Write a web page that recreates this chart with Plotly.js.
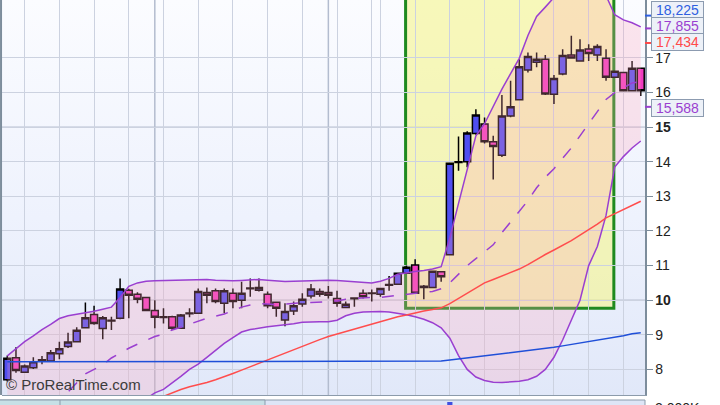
<!DOCTYPE html>
<html>
<head>
<meta charset="utf-8">
<script src="https://cdn.plot.ly/plotly-3.0.1.min.js"></script>
<style>
  html, body { margin:0; padding:0; background:#ffffff; width:720px; height:405px; overflow:hidden; }
  #bg { position:absolute; left:2px; top:0; width:643px; height:395px;
        background: linear-gradient(to bottom, #fbfcff 0%, #eef2fd 55%, #e1e8f9 100%); }
  #chart { position:absolute; left:0; top:0; width:720px; height:405px; }
</style>
</head>
<body>
<div id="bg"></div>
<div id="chart"></div>
<script>
// ---- candles (index = trading session) ----
const openP  = [7.70,8.34,7.92,8.05,8.26,8.24,8.45,8.66,8.80,9.20,9.59,9.18,9.40,9.48,10.29,10.17,10.08,9.70,9.50,9.52,
                9.19,9.61,9.62,10.22,10.27,9.91,10.20,10.00,10.33,10.29,10.17,9.94,9.43,9.69,9.89,10.12,10.25,10.22,10.05,9.79,
                10.04,10.20,10.19,10.17,10.43,10.46,10.78,11.02,10.37,10.37,10.82,11.31,13.98,14.00,14.82,15.09,14.58,14.19,15.32,15.79,
                16.65,16.88,16.96,15.95,16.54,17.09,16.91,17.26,17.09,16.99,16.44,16.58,16.05,16.70];
const highP  = [8.40,8.64,8.14,8.35,8.39,8.56,8.80,9.06,9.22,9.93,9.84,9.54,9.52,10.63,10.33,10.23,10.10,10.00,9.77,9.55,
                9.60,9.77,10.34,10.37,10.34,10.34,10.34,10.53,10.63,10.63,10.25,9.96,9.91,9.96,10.20,10.47,10.34,10.41,10.27,9.96,
                10.06,10.31,10.31,10.34,10.70,10.80,11.00,11.18,10.44,10.86,10.84,13.97,14.73,14.88,15.52,15.28,14.75,15.93,16.34,16.96,
                17.16,17.16,17.09,16.51,17.25,17.64,17.54,17.40,17.40,17.25,16.64,16.60,16.91,16.72];
const lowP   = [7.65,7.90,7.90,8.01,8.15,8.22,8.29,8.62,8.78,9.18,9.29,8.87,9.14,9.45,9.48,9.91,9.68,9.19,9.33,9.14,
                9.17,9.51,9.60,9.91,9.91,9.62,9.77,9.77,10.10,10.25,9.77,9.52,9.25,9.57,9.81,10.05,10.10,10.05,9.81,9.77,
                9.81,10.05,9.96,10.10,10.27,10.44,10.76,10.18,10.03,10.35,10.53,11.30,13.74,13.84,14.78,14.53,13.49,14.14,15.29,15.77,
                16.58,16.73,15.93,15.67,16.50,16.98,16.89,16.91,16.91,16.34,16.42,16.03,16.03,15.90];
const closeP = [8.32,7.97,8.10,8.22,8.28,8.48,8.60,8.79,9.13,9.49,9.33,9.49,9.42,10.32,10.14,10.03,9.70,9.51,9.52,9.19,
                9.57,9.63,10.25,10.14,9.96,10.27,9.96,10.20,10.35,10.37,9.84,9.77,9.67,9.84,10.03,10.32,10.17,10.14,9.91,9.88,
                10.06,10.10,10.21,10.34,10.45,10.78,10.95,10.20,10.40,10.84,10.68,13.96,14.00,14.83,15.35,14.58,14.44,15.32,15.59,16.75,
                17.04,16.96,15.96,16.41,17.07,17.00,17.23,17.13,17.33,16.44,16.62,16.05,16.70,16.05];

// ---- Bollinger bands ----
const bbUpper = [8.39,8.60,8.80,8.97,9.15,9.30,9.47,9.55,9.59,9.62,9.68,9.74,9.80,10.08,10.40,10.50,10.55,10.56,10.57,10.58,
                 10.58,10.60,10.60,10.60,10.58,10.56,10.56,10.57,10.59,10.60,10.58,10.55,10.54,10.55,10.56,10.57,10.58,10.58,10.57,10.55,
                 10.52,10.50,10.50,10.55,10.63,10.75,10.80,10.83,10.86,10.90,10.97,11.80,12.80,13.80,14.75,15.10,15.60,16.10,16.55,16.99,
                 17.65,18.20,18.47,18.75,19.20,19.40,19.50,19.35,19.10,18.80,18.25,18.10,18.02,17.90];
const bbMiddle = [6.30,6.45,6.60,6.75,6.90,7.00,7.15,7.35,7.60,7.87,8.00,8.13,8.33,8.48,8.61,8.73,8.85,8.95,9.02,9.14,
                  9.22,9.31,9.40,9.48,9.54,9.60,9.70,9.80,9.86,9.90,9.89,9.87,9.89,9.92,9.93,9.93,9.94,9.96,9.98,10.03,
                  10.05,10.08,10.08,10.08,10.11,10.15,10.19,10.21,10.23,10.25,10.33,10.50,10.75,11.00,11.20,11.40,11.60,11.95,12.25,12.55,
                  12.88,13.25,13.55,13.80,14.10,14.40,14.75,15.10,15.45,15.80,16.00,16.15,16.28,16.32];
const bbLower = [4.60,4.60,4.70,4.70,4.80,4.80,4.85,5.15,5.60,6.10,6.30,6.50,6.85,6.90,6.85,6.95,7.15,7.32,7.42,7.60,
                 7.80,8.00,8.15,8.35,8.55,8.75,8.92,9.08,9.15,9.20,9.23,9.26,9.28,9.32,9.36,9.38,9.38,9.38,9.42,9.55,
                 9.62,9.66,9.67,9.67,9.66,9.63,9.58,9.52,9.45,9.35,9.20,8.90,8.40,8.00,7.78,7.68,7.63,7.62,7.63,7.66,
                 7.70,7.80,8.00,8.35,8.85,9.40,10.00,11.00,11.55,12.45,13.85,14.15,14.40,14.60];

// ---- moving averages ----
const maRed = [null,null,null,null,null,null,null,null,null,null,null,null,null,null,null,null,null,7.12,7.22,7.33,
               7.42,7.50,7.55,7.62,7.70,7.78,7.88,7.98,8.08,8.18,8.28,8.38,8.48,8.58,8.68,8.76,8.86,8.95,9.02,9.10,
               9.17,9.25,9.32,9.38,9.45,9.52,9.57,9.64,9.69,9.73,9.78,9.90,10.05,10.20,10.36,10.50,10.60,10.70,10.80,10.90,
               11.03,11.18,11.32,11.45,11.58,11.72,11.88,12.03,12.20,12.38,12.50,12.62,12.75,12.86];
const maBlue = [8.22,8.22,8.22,8.22,8.22,8.22,8.22,8.22,8.22,8.22,8.22,8.22,8.22,8.22,8.22,8.22,8.22,8.22,8.22,8.22,
                8.22,8.22,8.22,8.22,8.22,8.22,8.22,8.22,8.22,8.22,8.22,8.22,8.22,8.22,8.22,8.22,8.22,8.22,8.22,8.22,
                8.22,8.22,8.22,8.22,8.22,8.22,8.22,8.22,8.22,8.22,8.24,8.27,8.30,8.33,8.36,8.39,8.42,8.45,8.47,8.50,
                8.53,8.56,8.60,8.64,8.68,8.72,8.76,8.80,8.84,8.88,8.92,8.97,9.03,9.06];

// ---- axis ticks ----
const yTickVals = [8,9,10,11,12,13,14,15,16,17];
const yTickText = ['8','9','<b>10</b>','11','12','13','14','<b>15</b>','16','17'];
const xGridVals = [2,6,10,14,18,22,26,30,34,38,42,43,47,51,55,59,63,67,71];
const xMajorVals = [17,37];
const yMajorVals = [10,15];

// ---- highlighted zone ----
const zoneStart = 45.9, zoneEnd = 69.9, zoneLow = 9.77, zoneHigh = 20;

// ---- right-side value labels ----
const labelValues = [18.225, 17.855, 17.434, 15.588];
const labelTexts  = ['18,225','17,855','17,434','15,588'];
const labelColors = ['#2f5fe0','#9a3fd0','#ff4a4a','#9a3fd0'];
const labelShift  = [6, 2.5, 0.5, -1];

const idx = openP.map((_, i) => i);
const purple = '#9a3fd0';

const traces = [
  {x: idx, y: bbLower, type:'scatter', mode:'lines', line:{color:purple, width:1.5}, hoverinfo:'skip'},
  {x: idx, y: bbUpper, type:'scatter', mode:'lines', line:{color:purple, width:1.5},
   fill:'tonexty', fillcolor:'rgba(255,160,185,0.25)', hoverinfo:'skip'},
  {x: idx, y: bbMiddle, type:'scatter', mode:'lines', line:{color:purple, width:1.5, dash:'12px,12px'}, hoverinfo:'skip'},
  {x: idx, y: maRed, type:'scatter', mode:'lines', line:{color:'#ff4d4d', width:1.5}, hoverinfo:'skip'},
  {x: idx, y: maBlue, type:'scatter', mode:'lines', line:{color:'#1f4fd8', width:1.5}, hoverinfo:'skip'},
  {x: idx, open: openP, high: highP, low: lowP, close: closeP, type:'candlestick',
   increasing:{fillcolor:'#4f4ff0', line:{color:'#000000', width:1.5}},
   decreasing:{fillcolor:'#f03cc0', line:{color:'#000000', width:1.5}},
   whiskerwidth:0, hoverinfo:'skip'}
];

const shapes = [];
xMajorVals.forEach(v => shapes.push({type:'line', xref:'x', yref:'paper', x0:v, x1:v, y0:0, y1:1,
  line:{color:'#b3bccf', width:1.5}, layer:'below'}));
yMajorVals.forEach(v => shapes.push({type:'line', xref:'paper', yref:'y', x0:0, x1:1, y0:v, y1:v,
  line:{color:'#b8c0d2', width:1.5}, layer:'below'}));
shapes.push({type:'rect', xref:'x', yref:'y', x0:zoneStart, x1:zoneEnd, y0:zoneLow, y1:zoneHigh,
  fillcolor:'rgba(245,245,140,0.6)', line:{color:'#1f8a1f', width:3}, layer:'below'});
shapes.push({type:'line', xref:'paper', yref:'paper', x0:-0.0015, x1:-0.0015, y0:0, y1:1,
  line:{color:'#7d8d9c', width:2}});
labelValues.forEach((v, k) => shapes.push({type:'line', xref:'paper', yref:'y', x0:1, x1:1.0095, y0:v, y1:v,
  line:{color:labelColors[k], width:2}}));
const pTop = -5/395;
shapes.push({type:'rect', xref:'paper', yref:'paper', x0:-0.004, x1:1, y0:-0.05, y1:pTop,
  fillcolor:'#dde5f6', line:{color:'#8c9bab', width:1}});
shapes.push({type:'rect', xref:'paper', yref:'paper', x0:-0.004, x1:263/643, y0:-0.05, y1:pTop,
  fillcolor:'#c6e0e6', line:{color:'#8c9bab', width:1}});
shapes.push({type:'line', xref:'paper', yref:'paper', x0:58/643, x1:58/643, y0:-0.05, y1:pTop,
  line:{color:'#8c9bab', width:1}});
shapes.push({type:'rect', xref:'x', yref:'paper', x0:50.7, x1:51.3, y0:-0.05, y1:pTop - 2/395,
  fillcolor:'#3f4fe0', line:{width:0}});

const annotations = [];
labelValues.forEach((v, k) => annotations.push({
  xref:'paper', yref:'y', x:1.0095, y:v, xanchor:'left', yanchor:'middle', yshift:labelShift[k],
  text:labelTexts[k], showarrow:false, align:'center',
  font:{family:'Liberation Sans, Arial, sans-serif', size:14, color:labelColors[k]},
  bgcolor:'#edf1f8', bordercolor:'#8c9bb0', borderwidth:1, borderpad:1, width:49, height:14
}));
annotations.push({xref:'paper', yref:'paper', x:0.003, y:0, xanchor:'left', yanchor:'bottom', yshift:0,
  text:'© ProRealTime.com', showarrow:false,
  font:{family:'Liberation Sans, Arial, sans-serif', size:15, color:'#3c3c3c'}});
annotations.push({xref:'paper', yref:'paper', x:0.002, y:pTop, xanchor:'left', yanchor:'top', yshift:-1,
  text:'Volume', showarrow:false, font:{family:'Liberation Sans, Arial, sans-serif', size:14, color:'#2f5fe0'}});
annotations.push({xref:'paper', yref:'paper', x:62/643, y:pTop, xanchor:'left', yanchor:'top', yshift:-1,
  text:'Moyenne mobile (Simple 10)', showarrow:false, font:{family:'Liberation Sans, Arial, sans-serif', size:14, color:'#e040c0'}});
annotations.push({xref:'paper', yref:'paper', x:1.012, y:pTop, xanchor:'left', yanchor:'top', yshift:2,
  text:'2,000K', showarrow:false, font:{family:'Liberation Sans, Arial, sans-serif', size:14, color:'#222222'}});

const layout = {
  width:720, height:405,
  margin:{l:2, r:75, t:0, b:10, pad:0},
  paper_bgcolor:'rgba(0,0,0,0)', plot_bgcolor:'rgba(0,0,0,0)',
  showlegend:false,
  boxgap:0.2, boxgroupgap:0,
  xaxis:{range:[-0.61, 73.49], tickvals:xGridVals, showticklabels:false, ticks:'',
         showgrid:true, gridcolor:'#ccd2e0', gridwidth:1, zeroline:false,
         showline:true, linecolor:'#8c9bab', linewidth:1,
         rangeslider:{visible:false}, fixedrange:true},
  yaxis:{range:[7.26, 18.676], side:'right', tickvals:yTickVals, ticktext:yTickText,
         showgrid:true, gridcolor:'#ccd2e0', gridwidth:1, zeroline:false,
         ticks:'outside', ticklen:6, tickcolor:'#7d8d9c', tickwidth:1,
         showline:true, linecolor:'#7d8d9c', linewidth:1.5,
         tickfont:{family:'Liberation Sans, Arial, sans-serif', size:14, color:'#222222'},
         fixedrange:true},
  shapes:shapes,
  annotations:annotations
};

Plotly.newPlot('chart', traces, layout, {displayModeBar:false, staticPlot:true});
</script>
</body>
</html>
